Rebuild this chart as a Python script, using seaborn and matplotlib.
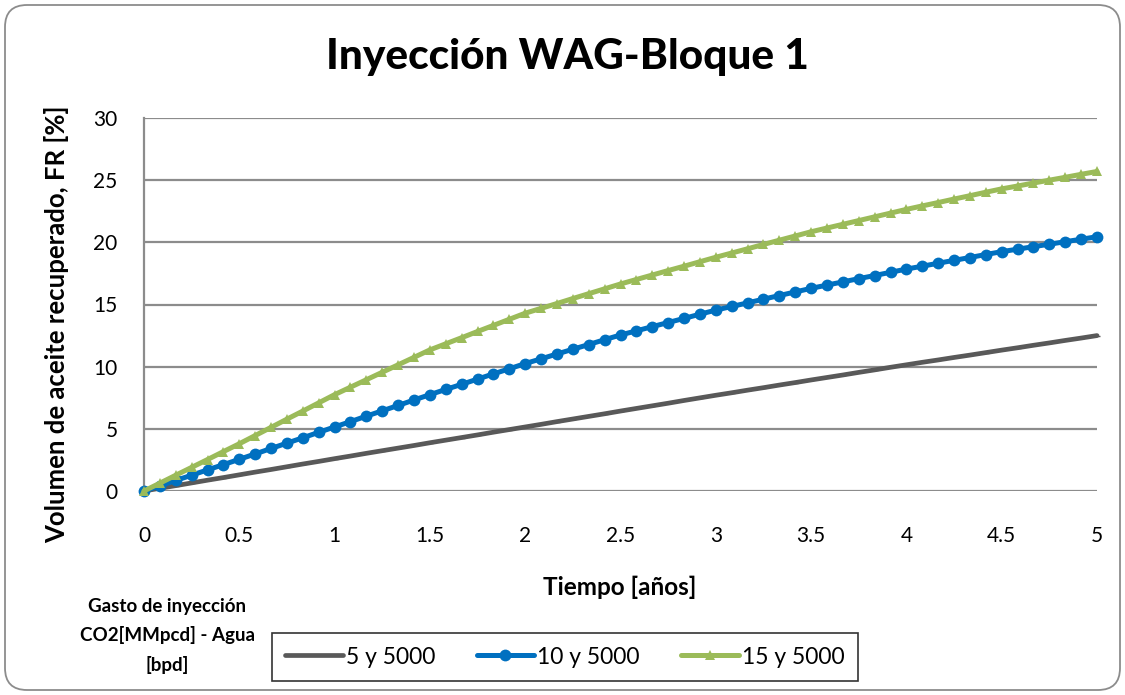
import matplotlib
matplotlib.use("Agg")
import matplotlib.pyplot as plt
from matplotlib.patches import FancyBboxPatch
import seaborn as sns
import pandas as pd

# Monthly time axis (years) and recovery factor for each injection scenario
tiempo = [
    0.0000, 0.0833, 0.1667, 0.2500, 0.3333, 0.4167, 0.5000, 0.5833, 0.6667, 0.7500,
    0.8333, 0.9167, 1.0000, 1.0833, 1.1667, 1.2500, 1.3333, 1.4167, 1.5000, 1.5833,
    1.6667, 1.7500, 1.8333, 1.9167, 2.0000, 2.0833, 2.1667, 2.2500, 2.3333, 2.4167,
    2.5000, 2.5833, 2.6667, 2.7500, 2.8333, 2.9167, 3.0000, 3.0833, 3.1667, 3.2500,
    3.3333, 3.4167, 3.5000, 3.5833, 3.6667, 3.7500, 3.8333, 3.9167, 4.0000, 4.0833,
    4.1667, 4.2500, 4.3333, 4.4167, 4.5000, 4.5833, 4.6667, 4.7500, 4.8333, 4.9167,
    5.0000,
]

fr_5_5000 = [
    0.00, 0.22, 0.43, 0.65, 0.87, 1.08, 1.30, 1.52, 1.73, 1.95,
    2.17, 2.38, 2.60, 2.81, 3.03, 3.24, 3.45, 3.66, 3.88, 4.09,
    4.30, 4.51, 4.73, 4.94, 5.15, 5.36, 5.58, 5.79, 6.00, 6.21,
    6.43, 6.64, 6.85, 7.06, 7.28, 7.49, 7.70, 7.90, 8.11, 8.31,
    8.52, 8.72, 8.93, 9.13, 9.33, 9.54, 9.74, 9.95, 10.15, 10.35,
    10.54, 10.74, 10.93, 11.13, 11.33, 11.52, 11.72, 11.91, 12.11, 12.30,
    12.50,
]

fr_10_5000 = [
    0.00, 0.42, 0.85, 1.27, 1.70, 2.12, 2.55, 2.98, 3.42, 3.85,
    4.28, 4.72, 5.15, 5.58, 6.02, 6.45, 6.88, 7.32, 7.75, 8.17,
    8.58, 9.00, 9.42, 9.83, 10.25, 10.63, 11.02, 11.40, 11.78, 12.17,
    12.55, 12.88, 13.22, 13.55, 13.88, 14.22, 14.55, 14.84, 15.13, 15.43,
    15.72, 16.01, 16.30, 16.56, 16.82, 17.08, 17.33, 17.59, 17.85, 18.08,
    18.32, 18.55, 18.78, 19.02, 19.25, 19.45, 19.65, 19.85, 20.05, 20.25,
    20.45,
]

fr_15_5000 = [
    0.00, 0.63, 1.27, 1.90, 2.53, 3.17, 3.80, 4.46, 5.12, 5.78,
    6.43, 7.09, 7.75, 8.35, 8.95, 9.55, 10.15, 10.75, 11.35, 11.84,
    12.33, 12.83, 13.32, 13.81, 14.30, 14.69, 15.08, 15.48, 15.87, 16.26,
    16.65, 17.01, 17.37, 17.73, 18.08, 18.44, 18.80, 19.14, 19.48, 19.83,
    20.17, 20.51, 20.85, 21.15, 21.45, 21.75, 22.05, 22.35, 22.65, 22.93,
    23.20, 23.48, 23.75, 24.03, 24.30, 24.53, 24.77, 25.00, 25.23, 25.47,
    25.70,
]

escenarios = ["5 y 5000", "10 y 5000", "15 y 5000"]
x_ticks = [0, 0.5, 1, 1.5, 2, 2.5, 3, 3.5, 4, 4.5, 5]
x_tick_labels = ["0", "0.5", "1", "1.5", "2", "2.5", "3", "3.5", "4", "4.5", "5"]
y_ticks = [0, 5, 10, 15, 20, 25, 30]

sns.set_theme(style="white")
plt.rcParams["font.family"] = ["Lato", "DejaVu Sans"]
plt.rcParams["text.color"] = "black"

df = pd.concat([
    pd.DataFrame({"t": tiempo, "fr": fr_5_5000, "esc": escenarios[0]}),
    pd.DataFrame({"t": tiempo, "fr": fr_10_5000, "esc": escenarios[1]}),
    pd.DataFrame({"t": tiempo, "fr": fr_15_5000, "esc": escenarios[2]}),
])

colores = {escenarios[0]: "#595959", escenarios[1]: "#0070C0", escenarios[2]: "#9BBB59"}
estilos = {
    escenarios[0]: dict(marker="_", markersize=4, linewidth=3.4, markeredgewidth=1.0),
    escenarios[1]: dict(marker="o", markersize=8.5, linewidth=3.6, markeredgewidth=0),
    escenarios[2]: dict(marker="^", markersize=7, linewidth=3.6, markeredgewidth=0),
}

fig = plt.figure(figsize=(11.25, 6.95), dpi=100)
ax = fig.add_axes([144 / 1125, 1 - 491 / 695, (1097 - 144) / 1125, (491 - 118) / 695])

for esc in escenarios:
    sub = df[df["esc"] == esc]
    sns.lineplot(data=sub, x="t", y="fr", ax=ax, color=colores[esc], label=esc,
                 markeredgecolor=colores[esc], clip_on=False, zorder=3, **estilos[esc])

ax.set_xlim(0, 5)
ax.set_ylim(0, 30)
ax.set_xticks(x_ticks)
ax.set_xticklabels(x_tick_labels)
ax.set_yticks(y_ticks)
ax.tick_params(axis="x", length=0, pad=25, labelsize=15, colors="black")
ax.tick_params(axis="y", length=0, pad=19, labelsize=15, colors="black")
ax.yaxis.grid(True, color="#8c8c8c", linewidth=1.6)
ax.xaxis.grid(False)
for s in ["top", "right", "bottom"]:
    ax.spines[s].set_visible(False)
ax.spines["left"].set_color("#8c8c8c")
ax.spines["left"].set_linewidth(1.6)
ax.set_xlabel("")
ax.set_ylabel("")
ax.get_legend().remove()

fig.text(567 / 1125, 1 - 57 / 695, "Inyección WAG-Bloque 1", ha="center", va="center",
         fontsize=30.5, fontweight="black")
fig.text(57 / 1125, 1 - 324 / 695, "Volumen de aceite recuperado, FR [%]", ha="center",
         va="center", rotation=90, fontsize=18.5, fontweight="bold")
fig.text(620 / 1125, 1 - 587 / 695, "Tiempo [años]", ha="center", va="center",
         fontsize=17.5, fontweight="bold")
fig.text(167 / 1125, 1 - 636 / 695, "Gasto de inyección\nCO2[MMpcd] - Agua\n[bpd]",
         ha="center", va="center", fontsize=13.5, fontweight="bold", linespacing=1.75)

handles, labels = ax.get_legend_handles_labels()
leg = fig.legend(handles, labels, loc="center", ncol=3,
                 bbox_to_anchor=(565 / 1125, 1 - 657 / 695),
                 frameon=True, fancybox=False, fontsize=16.5, handlelength=2.5,
                 handletextpad=0.15, columnspacing=1.8, borderpad=0.6)
leg.get_frame().set_edgecolor("black")
leg.get_frame().set_linewidth(1.2)

border = FancyBboxPatch((0.05, 0.05), 11.15, 6.85, boxstyle="round,pad=0,rounding_size=0.22",
                        transform=fig.dpi_scale_trans, facecolor="none",
                        edgecolor="#8c8c8c", linewidth=1.3)
fig.add_artist(border)

fig.savefig("out.png", dpi=100)
